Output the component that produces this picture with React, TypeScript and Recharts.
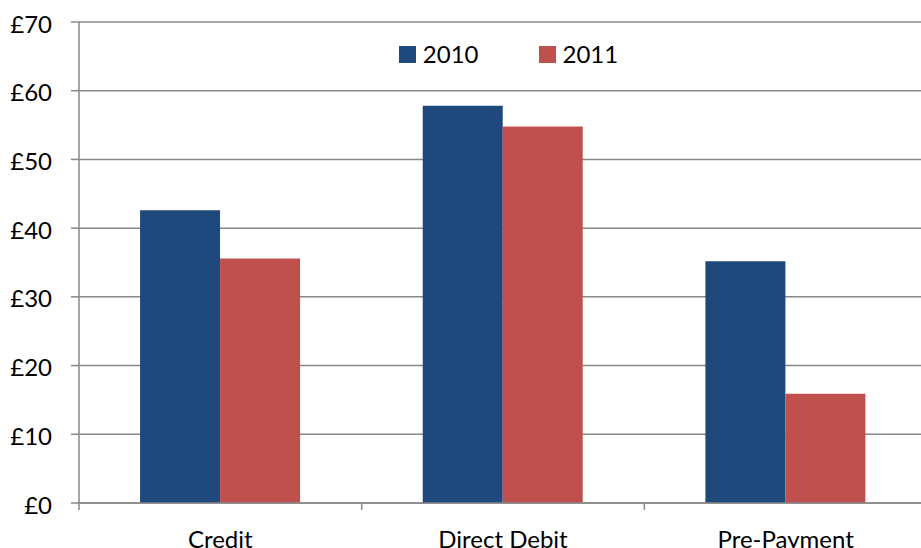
import React from "react";
import { BarChart, Bar, XAxis, YAxis, CartesianGrid, Legend } from "recharts";

const categories = ["Credit", "Direct Debit", "Pre-Payment"];
const values2010 = [42.6, 57.8, 35.2];
const values2011 = [35.6, 54.8, 15.9];
const yTicks = [0, 10, 20, 30, 40, 50, 60, 70];

const data = categories.map((c, i) => ({ name: c, y2010: values2010[i], y2011: values2011[i] }));

const FONT = "Lato, 'Open Sans', sans-serif";
const AXIS = "#888888";
const BLUE = "#1F497D";
const RED = "#C0504D";

const XTick = (props: any) => {
  const { x, y, payload } = props;
  const off = payload && typeof payload.offset === "number" ? payload.offset : 0;
  return (
    <g>
      <line x1={x - off} x2={x - off} y1={y} y2={y + 7} stroke={AXIS} strokeWidth={1.5} />
      <text x={x} y={y + 45} textAnchor="middle" fontFamily={FONT} fontSize={24} fill="#000">
        {payload.value}
      </text>
    </g>
  );
};

const LegendContent = () => (
  <div style={{ display: "flex", justifyContent: "center", alignItems: "center", fontFamily: FONT, fontSize: 24, color: "#000", lineHeight: "26px" }}>
    <span style={{ display: "inline-block", width: 17, height: 17, background: BLUE, marginRight: 7 }} />
    <span style={{ marginRight: 60 }}>2010</span>
    <span style={{ display: "inline-block", width: 17, height: 17, background: RED, marginRight: 7 }} />
    <span>2011</span>
  </div>
);

export default function App() {
  return (
    <div style={{ position: "absolute", left: 0, top: 0, width: 921, height: 548, overflow: "hidden", background: "#fff" }}>
      <BarChart
        width={927}
        height={548}
        data={data}
        margin={{ top: 22, right: 0, bottom: 0, left: 0 }}
        barCategoryGap="21.6%"
        barGap={0}
      >
        <CartesianGrid vertical={false} stroke={AXIS} strokeWidth={1.5} />
        <XAxis
          dataKey="name"
          height={45}
          tickSize={0}
          tickMargin={0}
          tickLine={false}
          axisLine={{ stroke: AXIS, strokeWidth: 1.5 }}
          tick={<XTick />}
          interval={0}
        />
        <YAxis
          width={79}
          domain={[0, 70]}
          ticks={yTicks}
          tickFormatter={(v: number) => `£${v}`}
          tickSize={8}
          tickMargin={19}
          tickLine={{ stroke: AXIS, strokeWidth: 1.5 }}
          axisLine={{ stroke: AXIS, strokeWidth: 1.5 }}
          tick={{ fontFamily: FONT, fontSize: 24, fill: "#000", dy: 2 }}
        />
        <Legend
          verticalAlign="middle"
          align="center"
          content={<LegendContent />}
          wrapperStyle={{ position: "absolute", top: 41, left: 85, width: 847 }}
        />
        <Bar dataKey="y2010" fill={BLUE} isAnimationActive={false} />
        <Bar dataKey="y2011" fill={RED} isAnimationActive={false} />
      </BarChart>
    </div>
  );
}
